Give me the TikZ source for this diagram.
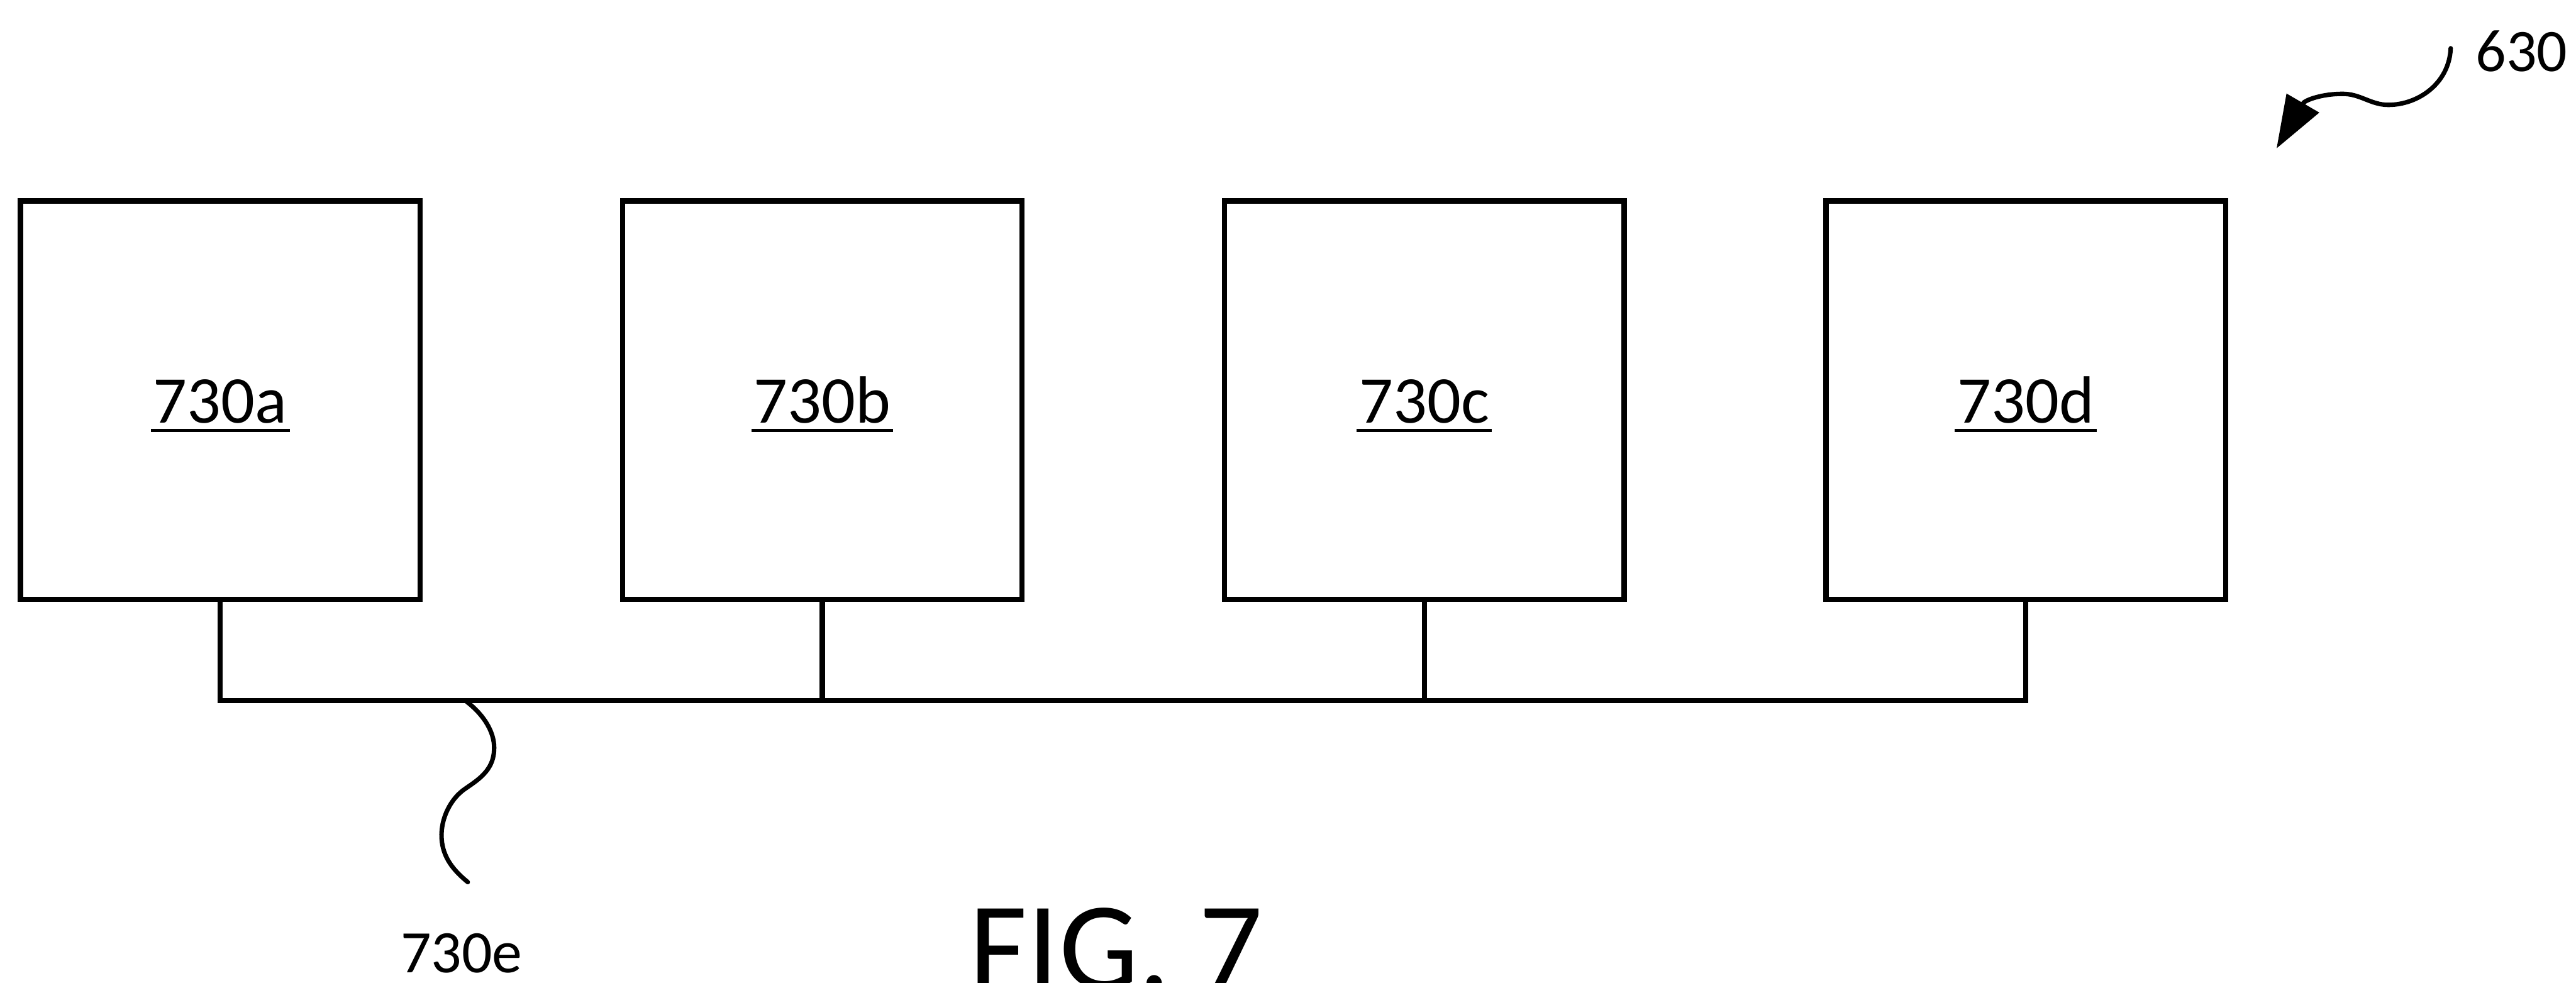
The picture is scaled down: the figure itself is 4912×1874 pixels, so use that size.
\documentclass[tikz,border=0pt]{standalone}
\usepackage{fontspec}
\setmainfont{Carlito}
\usetikzlibrary{arrows.meta}
\newcommand\ulbl[1]{\setbox0\hbox{#1}\rlap{\kern-1pt\vrule width\dimexpr\wd0+2pt\relax height -2.1pt depth 3.3pt}\box0}
\begin{document}
\begin{tikzpicture}[x=0.2pt,y=-0.2pt,
  unit/.style={draw, line width=2pt, minimum width=152.4pt, minimum height=152pt, inner sep=0pt},
  lbl/.style={inner sep=0pt, font=\fontsize{25.5pt}{30pt}\selectfont},
  ref/.style={inner sep=0pt, font=\fontsize{23pt}{28pt}\selectfont},
  wire/.style={line width=2pt},
  lead/.style={line width=1.7pt, line cap=round}]
\useasboundingbox (0,0) rectangle (4912,1874);
% units
\node[unit] (boxa) at (420,763) {};
\node[unit] (boxb) at (1568,763) {};
\node[unit] (boxc) at (2716,763) {};
\node[unit] (boxd) at (3863,763) {};
\node[lbl, anchor=base] (la) at (420,807) {\ulbl{730a}};
\node[lbl, anchor=base] (lb) at (1568,807) {\ulbl{730b}};
\node[lbl, anchor=base] (lc) at (2716,807) {\ulbl{730c}};
\node[lbl, anchor=base] (ld) at (3863,807) {\ulbl{730d}};
% bus
\coordinate (busa) at (420,1336);
\coordinate (busb) at (1568,1336);
\coordinate (busc) at (2716,1336);
\coordinate (busd) at (3863,1336);
\draw[wire] (boxa.south) -- (busa) -- (busd) -- (boxd.south);
\draw[wire] (boxb.south) -- (busb);
\draw[wire] (boxc.south) -- (busc);
% 730e leader
\coordinate (e0) at (890,1338);
\coordinate (e1) at (892,1682);
\node[ref, anchor=base] (le) at (880,1855) {730e};
\draw[lead] (e0) .. controls (925,1365) and (945,1400) .. (942,1432)
  .. controls (940,1470) and (910,1488) .. (887,1504)
  .. controls (860,1522) and (840,1560) .. (842,1598)
  .. controls (844,1635) and (865,1660) .. (e1);
% 630 leader
\node[ref, anchor=base] (l630) at (4808,136) {630};
\coordinate (s630) at (4673,92);
\coordinate (t630) at (4341,283);
\draw[lead, -{Triangle[length=20pt,width=14pt]}] (s630)
  .. controls (4670,160) and (4610,200) .. (4554,200)
  .. controls (4520,200) and (4500,178) .. (4465,179)
  .. controls (4430,179) and (4395,190) .. (t630);
% figure title
\node[inner sep=0pt, anchor=base west, font=\fontsize{48pt}{56pt}\selectfont] (fig) at (1848,1887) {FIG. 7};
\end{tikzpicture}
\end{document}
